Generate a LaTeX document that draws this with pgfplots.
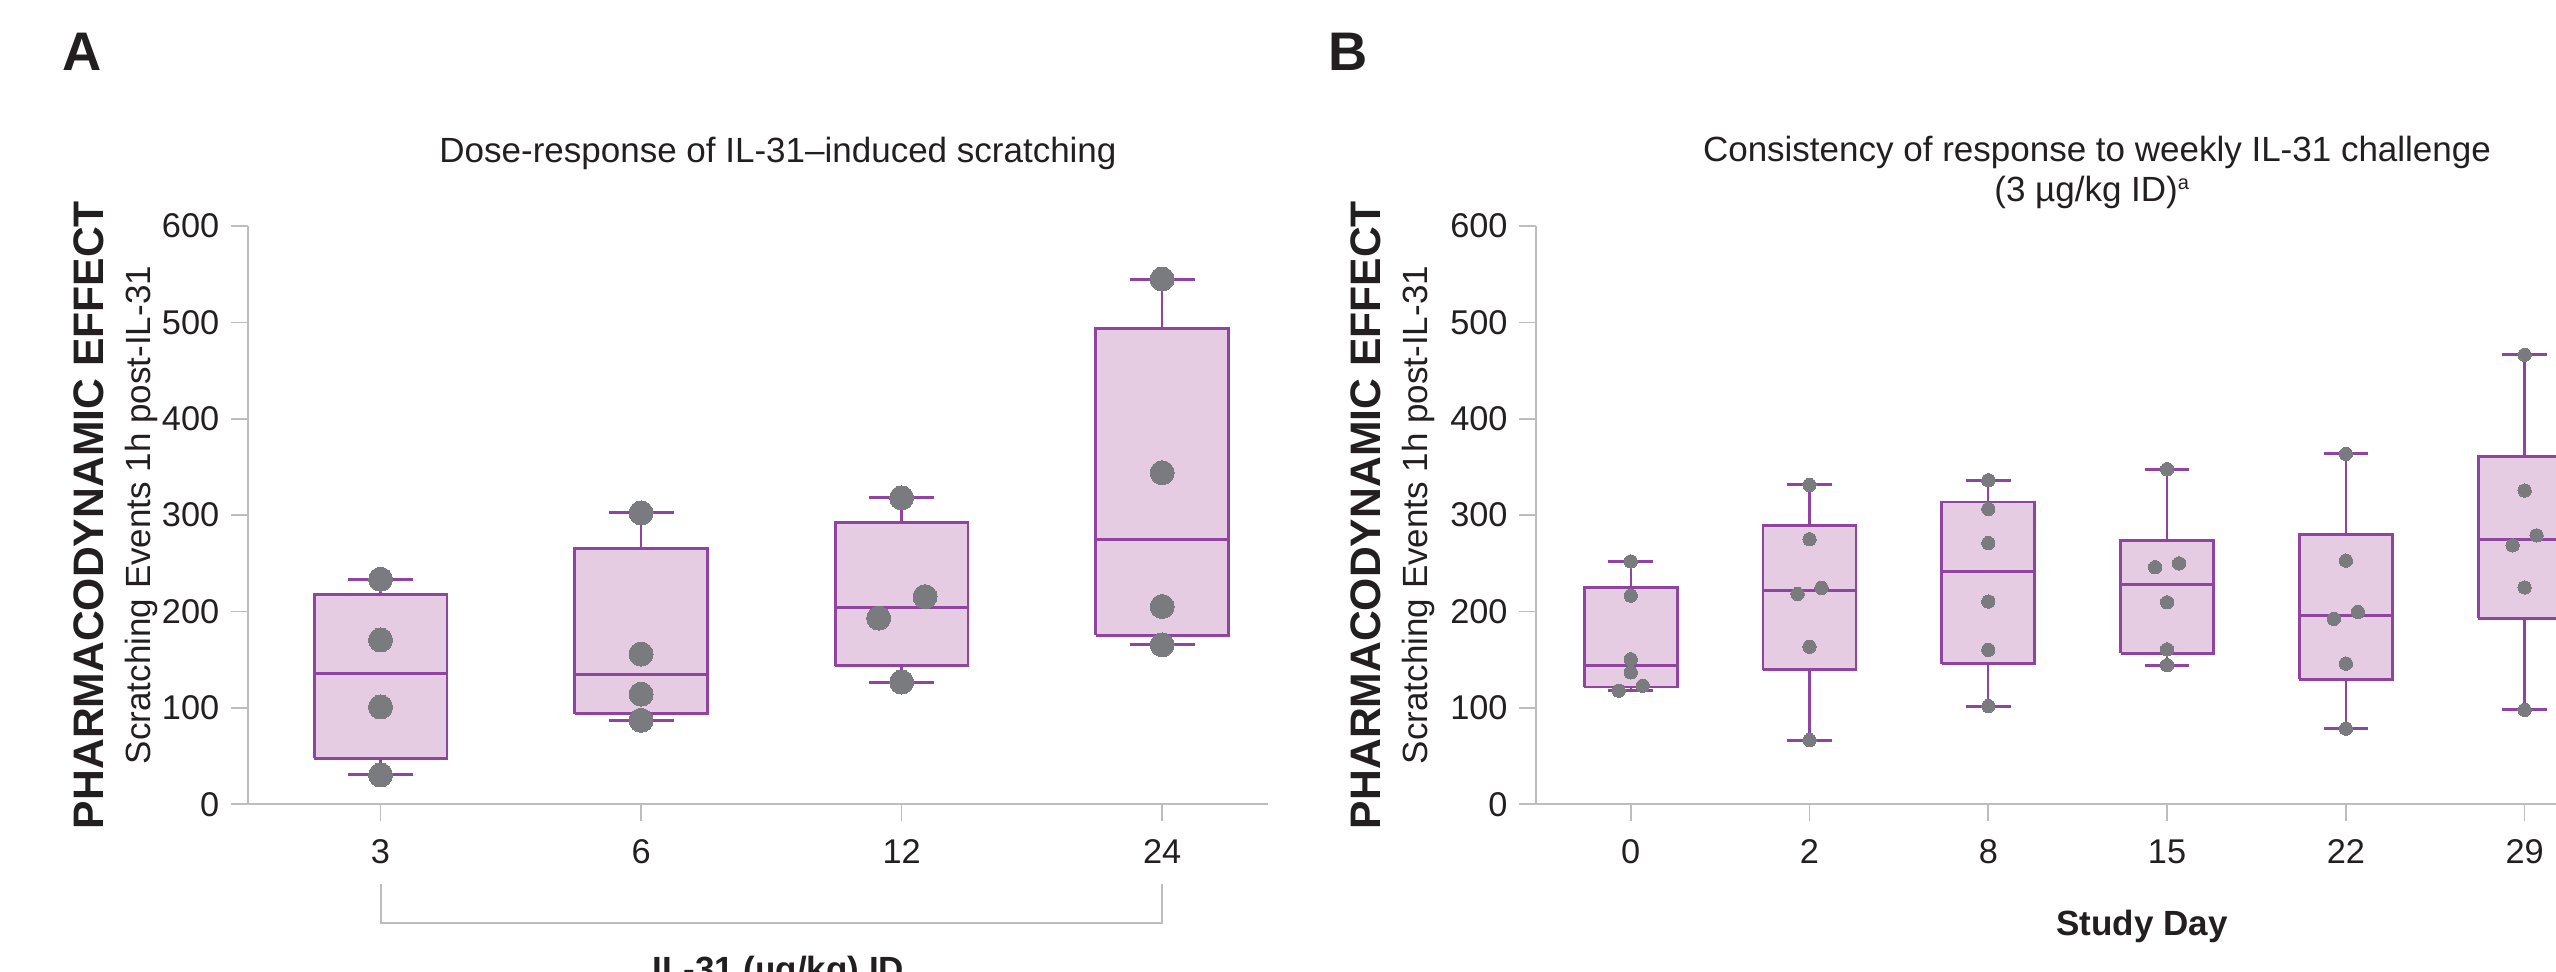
\documentclass[border=0pt]{standalone}
\usepackage{fontspec}
\setmainfont{Liberation Sans}
\usepackage{pgfplots}
\pgfplotsset{compat=1.18}
\definecolor{boxfill}{RGB}{230,204,226}
\definecolor{boxedge}{RGB}{142,68,160}
\definecolor{dotgray}{RGB}{122,123,127}
\definecolor{axgray}{RGB}{189,189,189}
\definecolor{txt}{RGB}{35,31,32}
\pgfplotsset{
  panel/.style={
    scale only axis, anchor=south west,
    ymin=0, ymax=600, ytick={0,100,200,300,400,500,600},
    yticklabels={0,100,200,300,400,500,600},
    axis x line*=bottom, axis y line*=left,
    axis line style={draw=axgray, line width=0.5pt},
    tick style={draw=axgray, line width=0.5pt},
    major tick length=5pt, tick align=outside,
    ticklabel style={font=\fontsize{10.3}{12}\selectfont, text=txt},
    xticklabel style={yshift=-2pt},
    clip=false,
  },
  bx/.style={draw=boxedge, fill=boxfill, line width=0.85pt, mark=none},
  wh/.style={draw=boxedge, line width=0.7pt, mark=none},
  cp/.style={draw=boxedge, line width=0.9pt, mark=none},
  dotsA/.style={only marks, mark=*, mark size=3.6pt, mark options={fill=dotgray, draw=dotgray, line width=0pt}},
  dotsB/.style={only marks, mark=*, mark size=2pt, mark options={fill=dotgray, draw=dotgray, line width=0pt}},
}
\begin{document}
\begin{tikzpicture}
\useasboundingbox (0pt,0pt) rectangle (766.8pt,291.6pt);
% ---------------- Panel A ----------------
\begin{axis}[panel, at={(74.3pt,50.3pt)}, width=306pt, height=173.5pt,
  xmin=-0.51, xmax=3.405, xtick={0,1,2,3}, xticklabels={3,6,12,24}]
\addplot[bx] coordinates {(-0.255,47.8) (0.255,47.8) (0.255,217.4) (-0.255,217.4) (-0.255,47.8)};
\addplot[bx] coordinates {(0.745,94) (1.255,94) (1.255,265.5) (0.745,265.5) (0.745,94)};
\addplot[bx] coordinates {(1.745,144) (2.255,144) (2.255,292) (1.745,292) (1.745,144)};
\addplot[bx] coordinates {(2.745,175.5) (3.255,175.5) (3.255,494) (2.745,494) (2.745,175.5)};
% whiskers
\addplot[wh] coordinates {(0,47.8) (0,30.5)};
\addplot[wh] coordinates {(0,217.4) (0,233.5)};
\addplot[wh] coordinates {(1,94) (1,87.2)};
\addplot[wh] coordinates {(1,265.5) (1,302.4)};
\addplot[wh] coordinates {(2,144) (2,126.9)};
\addplot[wh] coordinates {(2,292) (2,318)};
\addplot[wh] coordinates {(3,175.5) (3,165.5)};
\addplot[wh] coordinates {(3,494) (3,545)};
% caps
\addplot[cp] coordinates {(-0.125,30.5) (0.125,30.5)};
\addplot[cp] coordinates {(-0.125,233.5) (0.125,233.5)};
\addplot[cp] coordinates {(0.875,87.2) (1.125,87.2)};
\addplot[cp] coordinates {(0.875,302.4) (1.125,302.4)};
\addplot[cp] coordinates {(1.875,126.9) (2.125,126.9)};
\addplot[cp] coordinates {(1.875,318) (2.125,318)};
\addplot[cp] coordinates {(2.875,165.5) (3.125,165.5)};
\addplot[cp] coordinates {(2.875,545) (3.125,545)};
% medians
\addplot[cp] coordinates {(-0.255,135.7) (0.255,135.7)};
\addplot[cp] coordinates {(0.745,135) (1.255,135)};
\addplot[cp] coordinates {(1.745,204) (2.255,204)};
\addplot[cp] coordinates {(2.745,274.7) (3.255,274.7)};
\addplot[dotsA] coordinates {
 (0,233.5) (0,170.5) (0,101) (0,30.5)
 (1,302.4) (1,155.9) (1,114.3) (1,87.2)
 (2,318) (2.09,215.5) (1.912,193.2) (2,126.9)
 (3,545) (3,344) (3,205.2) (3,165.5)
};
\addplot[axgray, line width=0.6pt, mark=none] coordinates {(0,-82.7) (0,-123.1) (3,-123.1) (3,-82.7)};
\end{axis}
% ---------------- Panel B ----------------
\begin{axis}[panel, at={(460.8pt,50.3pt)}, width=323.4pt, height=173.5pt,
  xmin=-0.53, xmax=5.5, xtick={0,1,2,3,4,5}, xticklabels={0,2,8,15,22,29}]
\addplot[bx] coordinates {(-0.26,121.8) (0.26,121.8) (0.26,224.8) (-0.26,224.8) (-0.26,121.8)};
\addplot[bx] coordinates {(0.74,139.6) (1.26,139.6) (1.26,289) (0.74,289) (0.74,139.6)};
\addplot[bx] coordinates {(1.74,146) (2.26,146) (2.26,313.6) (1.74,313.6) (1.74,146)};
\addplot[bx] coordinates {(2.74,156.5) (3.26,156.5) (3.26,274) (2.74,274) (2.74,156.5)};
\addplot[bx] coordinates {(3.74,129.6) (4.26,129.6) (4.26,280.3) (3.74,280.3) (3.74,129.6)};
\addplot[bx] coordinates {(4.74,193) (5.26,193) (5.26,360.5) (4.74,360.5) (4.74,193)};
% whiskers
\addplot[wh] coordinates {(0,121.8) (0,118)};
\addplot[wh] coordinates {(0,224.8) (0,252)};
\addplot[wh] coordinates {(1,139.6) (1,66.6)};
\addplot[wh] coordinates {(1,289) (1,331.4)};
\addplot[wh] coordinates {(2,146) (2,102)};
\addplot[wh] coordinates {(2,313.6) (2,336.2)};
\addplot[wh] coordinates {(3,156.5) (3,144.4)};
\addplot[wh] coordinates {(3,274) (3,347.7)};
\addplot[wh] coordinates {(4,129.6) (4,78.5)};
\addplot[wh] coordinates {(4,280.3) (4,363.6)};
\addplot[wh] coordinates {(5,193) (5,98)};
\addplot[wh] coordinates {(5,360.5) (5,466.4)};
% caps
\addplot[cp] coordinates {(-0.125,118) (0.125,118)};
\addplot[cp] coordinates {(-0.125,252) (0.125,252)};
\addplot[cp] coordinates {(0.875,66.6) (1.125,66.6)};
\addplot[cp] coordinates {(0.875,331.4) (1.125,331.4)};
\addplot[cp] coordinates {(1.875,102) (2.125,102)};
\addplot[cp] coordinates {(1.875,336.2) (2.125,336.2)};
\addplot[cp] coordinates {(2.875,144.4) (3.125,144.4)};
\addplot[cp] coordinates {(2.875,347.7) (3.125,347.7)};
\addplot[cp] coordinates {(3.875,78.5) (4.125,78.5)};
\addplot[cp] coordinates {(3.875,363.6) (4.125,363.6)};
\addplot[cp] coordinates {(4.875,98) (5.125,98)};
\addplot[cp] coordinates {(4.875,466.4) (5.125,466.4)};
% medians
\addplot[cp] coordinates {(-0.26,144) (0.26,144)};
\addplot[cp] coordinates {(0.74,221.8) (1.26,221.8)};
\addplot[cp] coordinates {(1.74,241.3) (2.26,241.3)};
\addplot[cp] coordinates {(2.74,227.8) (3.26,227.8)};
\addplot[cp] coordinates {(3.74,196) (4.26,196)};
\addplot[cp] coordinates {(4.74,274.5) (5.26,274.5)};
\addplot[dotsB] coordinates {
 (0,252) (0,216.5) (0,150.5) (0,136.9) (0.067,123) (-0.067,117.9)
 (1,331.4) (1,275) (1.067,224.6) (0.933,218.3) (1,163.5) (1,66.6)
 (2,336.2) (2,306.4) (2,271.1) (2,210.4) (2,160.3) (2,102)
 (3,347.7) (3.067,250) (2.933,246) (3,209.6) (3,160.7) (3,144.4)
 (4,363.6) (4,252.8) (4.067,199.6) (3.933,192.5) (4,146) (4,78.5)
 (5,466.4) (5,325.5) (5.067,279) (4.933,268.7) (5,225) (5,98)
};
\end{axis}
% ---------------- Text ----------------
\node[anchor=base west, inner sep=0, text=txt, font=\fontsize{16.3}{18}\selectfont\bfseries] at (18.6pt,270.3pt) {A};
\node[anchor=base west, inner sep=0, text=txt, font=\fontsize{16.3}{18}\selectfont\bfseries] at (398.4pt,270.3pt) {B};
\node[anchor=base, inner sep=0, text=txt, font=\fontsize{10.5}{12}\selectfont] at (233.4pt,242.7pt) {Dose-response of IL-31–induced scratching};
\node[anchor=base, inner sep=0, text=txt, font=\fontsize{10.5}{12}\selectfont] at (629.1pt,243.2pt) {Consistency of response to weekly IL-31 challenge};
\node[anchor=base, inner sep=0, text=txt, font=\fontsize{10.5}{12}\selectfont] at (627.5pt,231.2pt) {(3 µg/kg ID)\raisebox{3.6pt}{\fontsize{6}{7}\selectfont a}};
\node[rotate=90, anchor=base, inner sep=0, text=txt, font=\fontsize{12.8}{14}\selectfont\bfseries] at (31.1pt,137.1pt) {PHARMACODYNAMIC EFFECT};
\node[rotate=90, anchor=base, inner sep=0, text=txt, font=\fontsize{10.5}{12}\selectfont] at (45pt,137.1pt) {Scratching Events 1h post-IL-31};
\node[rotate=90, anchor=base, inner sep=0, text=txt, font=\fontsize{12.8}{14}\selectfont\bfseries] at (414pt,137.1pt) {PHARMACODYNAMIC EFFECT};
\node[rotate=90, anchor=base, inner sep=0, text=txt, font=\fontsize{10.5}{12}\selectfont] at (428.1pt,137.1pt) {Scratching Events 1h post-IL-31};
\node[anchor=base, inner sep=0, text=txt, font=\fontsize{10.5}{12}\selectfont\bfseries] at (642.6pt,10.8pt) {Study Day};
\node[anchor=base, inner sep=0, text=txt, font=\fontsize{10.5}{12}\selectfont\bfseries] at (233.5pt,-3pt) {IL-31 (µg/kg) ID};
\end{tikzpicture}
\end{document}
